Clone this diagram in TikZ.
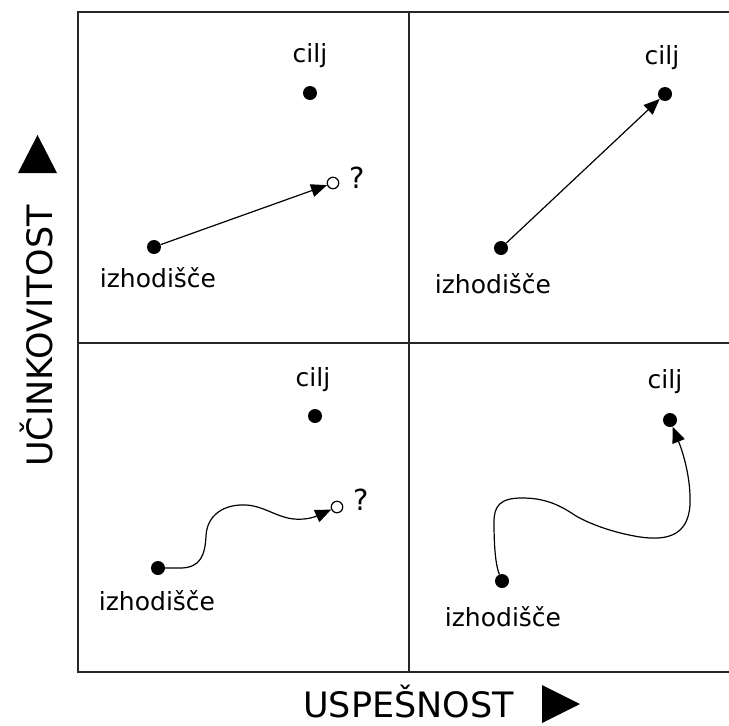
\documentclass[tikz,border=0pt]{standalone}
\usepackage{fontspec}
\setmainfont{DejaVu Sans}
\usetikzlibrary{arrows.meta}
\begin{document}
\begin{tikzpicture}[x=1pt,y=-1pt,
  gridline/.style={line width=2pt, draw=black!85},
  dot/.style={circle, fill=black, inner sep=0pt, minimum size=14pt},
  odot/.style={circle, draw=black, fill=white, line width=1.2pt, inner sep=0pt, minimum size=11.5pt},
  lbl/.style={font=\fontsize{25}{30}\selectfont, inner sep=0pt, anchor=base},
  qm/.style={font=\fontsize{29}{34}\selectfont, inner sep=0pt, anchor=base},
  axlbl/.style={font=\fontsize{35}{40}\selectfont, inner sep=0pt, anchor=base},
  conn/.style={line width=1.2pt, -{Triangle[length=16pt,width=13pt]}},
  axtri/.style={fill=black}]
\useasboundingbox (0,0) rectangle (729,726);
\clip (0,0) rectangle (729,726);
% frame
\draw[gridline] (740,12) -- (78,12) -- (78,672) -- (740,672);
\draw[gridline] (409,12) -- (409,672);
\draw[gridline] (78,343) -- (740,343);
% axis labels
\node[axlbl, rotate=90] (yl) at (52,336) {UČINKOVITOST};
\node[axlbl] (xl) at (408.5,717) {USPEŠNOST};
\fill[axtri] (18,173) -- (57,173) -- (37.5,135) -- cycle;
\fill[axtri] (542,685) -- (542,723) -- (580,704) -- cycle;
% top-left
\node[dot] (s1) at (154,247) {};
\node[dot] (g1) at (310,93) {};
\node[odot] (q1) at (333,183) {};
\node[lbl] (c1) at (310,62) {cilj};
\node[lbl] (i1) at (158,287) {izhodišče};
\node[qm] (m1) at (357,188) {?};
\draw[conn] (s1) -- (q1);
% top-right
\node[dot] (s2) at (501,248) {};
\node[dot] (g2) at (665,94) {};
\node[lbl] (c2) at (662,64) {cilj};
\node[lbl] (i2) at (493,293) {izhodišče};
\draw[conn] (s2) -- (g2);
% bottom-left
\node[dot] (s3) at (158,568) {};
\node[dot] (g3) at (315,416) {};
\node[odot] (q3) at (337,507) {};
\node[lbl] (c3) at (313,386) {cilj};
\node[lbl] (i3) at (157,610) {izhodišče};
\node[qm] (m3) at (361.5,510) {?};
\draw[conn] (s3) -- (182,568) .. controls (200,567) and (205,556) .. (206,536) .. controls (207,516) and (222,506) .. (240,505) .. controls (258,504) and (268,512) .. (284,517) .. controls (296,521) and (310,519) .. (q3);
% bottom-right
\node[dot] (s4) at (502,581) {};
\node[dot] (g4) at (670,420) {};
\node[lbl] (c4) at (665,388) {cilj};
\node[lbl] (i4) at (503,626) {izhodišče};
\draw[conn] (s4) .. controls (496,566) and (494,550) .. (494,522) .. controls (494,506) and (500,498) .. (522,498) .. controls (545,498) and (560,505) .. (576,516) .. controls (592,525) and (615,533) .. (640,537) .. controls (668,541) and (688,535) .. (690,505) .. controls (691,480) and (684,455) .. (g4);
\end{tikzpicture}
\end{document}
